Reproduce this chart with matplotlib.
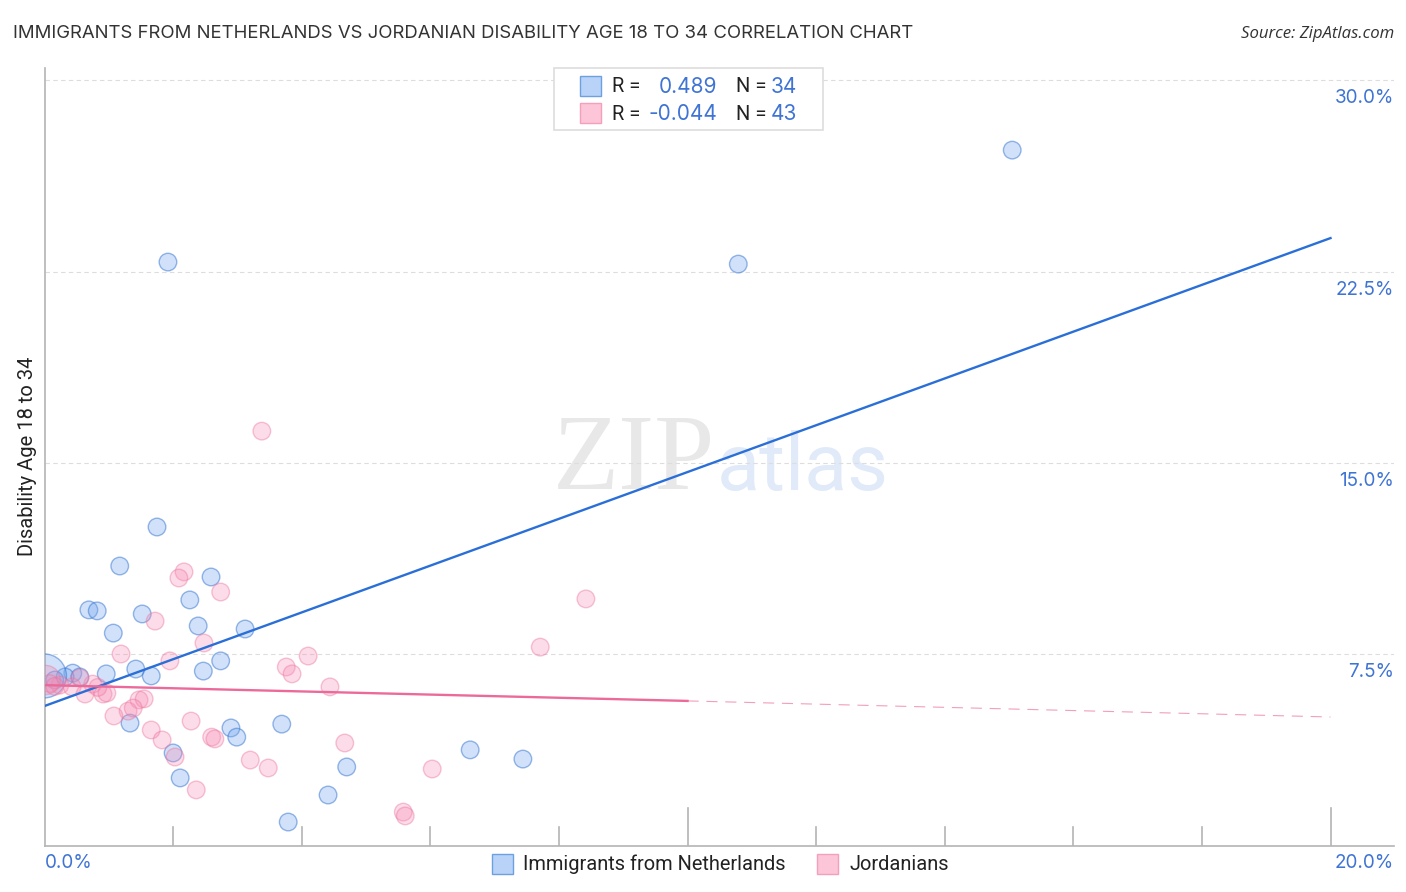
import numpy as np
import matplotlib
matplotlib.use("Agg")
import matplotlib.pyplot as plt
from matplotlib.patches import Rectangle

# values
blue_x = [15.05, 10.79, 1.92, 1.75, 1.17, 2.59, 0.69, 0.82, 2.26, 1.52, 1.07, 2.39, 3.12, 2.74, 2.47, 1.42, 1.66,
          0.96, 0.44, 0.32, 0.55, 0.16, 1.33, 2.90, 2.99, 3.69, 2.00, 2.11, 4.70, 4.41, 3.79, 6.62, 7.44, 0.0]
blue_y = [27.27, 22.80, 22.88, 12.49, 10.96, 10.53, 9.24, 9.20, 9.63, 9.08, 8.33, 8.61, 8.49, 7.24, 6.84, 6.92, 6.65,
          6.73, 6.76, 6.61, 6.61, 6.49, 4.80, 4.61, 4.25, 4.76, 3.63, 2.65, 3.08, 1.98, 0.92, 3.75, 3.39, 6.65]
blue_big = [33]

pink_x = [3.38, 2.17, 2.09, 2.74, 8.42, 1.72, 2.48, 1.19, 1.95, 4.10, 3.76, 3.85, 7.71, 4.44, 0.75, 0.55, 0.24, 0.43,
          0.02, 0.63, 0.91, 0.97, 1.47, 1.55, 1.30, 1.38, 1.08, 1.66, 2.28, 1.83, 2.60, 2.65, 2.03, 3.20, 3.48, 4.67,
          6.03, 2.36, 5.58, 5.61, 0.08, 0.83, 0.16]
pink_y = [16.25, 10.73, 10.49, 9.94, 9.67, 8.80, 7.94, 7.51, 7.24, 7.43, 7.00, 6.73, 7.78, 6.22, 6.33, 6.57, 6.29, 6.22,
          6.49, 5.94, 5.94, 5.98, 5.71, 5.75, 5.27, 5.39, 5.08, 4.53, 4.88, 4.14, 4.25, 4.18, 3.47, 3.35, 3.04, 4.02,
          3.00, 2.18, 1.31, 1.16, 6.35, 6.20, 6.24]
pink_big = [18]

blue_fit_x = [0, 20]
blue_fit_y = [5.47, 23.82]
pink_fit_x = [0, 10]
pink_fit_y = [6.29, 5.67]
pink_dash_x = [10, 20]
pink_dash_y = [5.67, 5.04]

y_ticks = [7.5, 15.0, 22.5, 30.0]
y_labels = ["7.5%", "15.0%", "22.5%", "30.0%"]
x_ticks = [2, 4, 6, 8, 10, 12, 14, 16, 18, 20]
x_long = [10, 20]

BLUE = "#2a6fd8"
PINK = "#ec6a9a"
LABEL = "#3f74d4"
GRAY = "#b4b4b4"
W, H = 1406, 892

plt.rcParams["font.family"] = ["Inter", "DejaVu Sans"]

fig = plt.figure(figsize=(W / 100, H / 100), dpi=100)
ax = fig.add_axes([44.5 / W, 1 - 845.5 / H, (1394 - 44.5) / W, (845.5 - 68) / H])
ax.set_xlim(0, (1394 - 44.5) / 64.3)
ax.set_ylim(0, (845.5 - 68) / 25.5)

for s in ["top", "right"]:
    ax.spines[s].set_visible(False)
for s in ["left", "bottom"]:
    ax.spines[s].set_color(GRAY)
    ax.spines[s].set_linewidth(1.2)

# watermark under everything
ax.text(634 / W, 1 - 489 / H, "ZIP", transform=fig.transFigure, family="Liberation Serif", fontsize=78,
        color="#e8e8e8", ha="center", va="baseline", zorder=0)
ax.text(803 / W, 1 - 490 / H, "atlas", transform=fig.transFigure, family="Roboto", fontsize=57,
        color="#e0eaf9", ha="center", va="baseline", zorder=0)

ax.set_yticks([])
ax.set_xticks([])
for v in y_ticks:
    ax.axhline(v, color="#dddddd", lw=0.8, dashes=(4, 3), zorder=1)
for v, t in zip(y_ticks, y_labels):
    ax.annotate(t, (1394 / W, v), xycoords=("figure fraction", "data"), xytext=(0, -18), textcoords="offset pixels",
                ha="right", va="center", fontsize=13.6, color=LABEL)

for v in x_ticks:
    top = 38 if v in x_long else 19
    ax.plot([v, v], [0, top / 25.5], color=GRAY, lw=1.2, zorder=1)

s_blue = [1000 if i in blue_big else 160 for i in range(len(blue_x))]
s_pink = [440 if i in pink_big else 160 for i in range(len(pink_x))]
ax.scatter(blue_x, blue_y, s=s_blue, facecolor=(0.45, 0.65, 0.93, 0.33), edgecolor=(0.2, 0.45, 0.82, 0.5), lw=1.0, zorder=3)
ax.scatter(pink_x, pink_y, s=s_pink, facecolor=(0.97, 0.55, 0.7, 0.3), edgecolor=(0.93, 0.45, 0.62, 0.42), lw=1.0, zorder=4)

ax.plot(blue_fit_x, blue_fit_y, color=BLUE, lw=1.7, zorder=5)
ax.plot(pink_fit_x, pink_fit_y, color=PINK, lw=1.7, zorder=6)
ax.plot(pink_dash_x, pink_dash_y, color=PINK, lw=0.8, dashes=(10, 7), alpha=0.65, zorder=6)

fig.text(13 / W, 1 - 33 / H, "IMMIGRANTS FROM NETHERLANDS VS JORDANIAN DISABILITY AGE 18 TO 34 CORRELATION CHART",
         fontsize=13.35, color="#333333", va="center", ha="left")
fig.text(1394 / W, 1 - 33.5 / H, "Source: ZipAtlas.com", fontsize=12.1, family="Open Sans", style="italic", color="#333333", va="center", ha="right")
fig.text(28 / W, 1 - 456 / H, "Disability Age 18 to 34", fontsize=14.5, family="Roboto", color="#222222", rotation=90, va="center", ha="center")
fig.text(44.5 / W, 1 - 863 / H, "0.0%", fontsize=13.6, color=LABEL, va="center", ha="left")
fig.text(1394 / W, 1 - 863 / H, "20.0%", fontsize=13.6, color=LABEL, va="center", ha="right")


def px_rect(x, y, w, h, **kw):
    fig.add_artist(Rectangle((x / W, 1 - (y + h) / H), w / W, h / H, transform=fig.transFigure, **kw))


# top legend
px_rect(553.5, 68, 269, 62, facecolor="white", edgecolor="#dddddd", lw=1.2, zorder=7)
px_rect(580, 76, 21, 20, facecolor="#b8d3f7", edgecolor="#6ea0e0", lw=1, zorder=8)
px_rect(580, 103, 21, 20, facecolor="#fcc6d8", edgecolor="#f4a0bb", lw=1, zorder=8)
for yy, r, n in [(87, "0.489", "34"), (114, "-0.044", "43")]:
    fig.text(612 / W, 1 - yy / H, "R =", fontsize=14.5, family="Roboto", color="#222222", va="center", zorder=9)
    fig.text(717 / W, 1 - yy / H, r, fontsize=15, color=LABEL, va="center", ha="right", zorder=9)
    fig.text(736 / W, 1 - yy / H, "N =", fontsize=14.5, family="Roboto", color="#222222", va="center", zorder=9)
    fig.text(797 / W, 1 - yy / H, n, fontsize=15, color=LABEL, va="center", ha="right", zorder=9)

# bottom legend
px_rect(491.5, 854, 21, 20, facecolor="#b8d3f7", edgecolor="#6ea0e0", lw=1, zorder=8)
px_rect(816.5, 854, 21, 20, facecolor="#fcc6d8", edgecolor="#f4a0bb", lw=1, zorder=8)
fig.text(523 / W, 1 - 864 / H, "Immigrants from Netherlands", fontsize=14.45, family="Roboto", color="#222222", va="center")
fig.text(849 / W, 1 - 864 / H, "Jordanians", fontsize=14.45, family="Roboto", color="#222222", va="center")

fig.savefig("out.png", dpi=100)
